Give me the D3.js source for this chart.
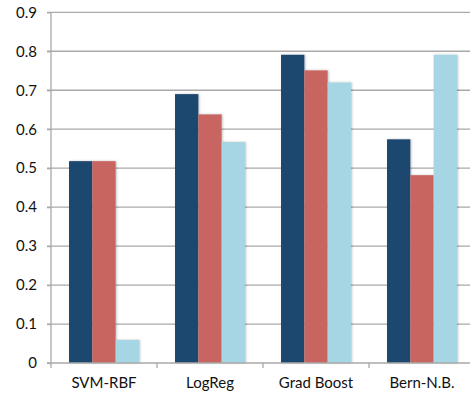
<!DOCTYPE html>
<html><head><meta charset="utf-8">
<script src="https://cdn.jsdelivr.net/npm/d3@7"></script>
<style>body{margin:0;background:#fff;overflow:hidden}svg{display:block}</style>
</head><body>
<script>
const categories = ["SVM-RBF", "LogReg", "Grad Boost", "Bern-N.B."];
const seriesNames = ["A", "B", "C"];
const seriesA = [0.518, 0.690, 0.791, 0.574];
const seriesB = [0.518, 0.638, 0.751, 0.482];
const seriesC = [0.059, 0.567, 0.720, 0.791];
const yTicks = [0, 0.1, 0.2, 0.3, 0.4, 0.5, 0.6, 0.7, 0.8, 0.9];
const colors = ["#1f476e", "#c96561", "#a6d6e3"];

(function(){
const W = 470, H = 394;
const mLeft = 51, mRight = 475, mTop = 12.3, mBottom = 363;
const svg = d3.select("body").append("svg").attr("width", W).attr("height", H);

const defs = svg.append("defs");
const f = defs.append("filter").attr("id","sh").attr("x","-20%").attr("y","-5%").attr("width","140%").attr("height","110%");
f.append("feDropShadow").attr("dx",1).attr("dy",0).attr("stdDeviation",1).attr("flood-color","#000").attr("flood-opacity",0.25);

const x0 = d3.scaleBand().domain(categories).range([mLeft, mRight]).paddingInner(0.34).paddingOuter(0.17);
const x1 = d3.scaleBand().domain(seriesNames).range([0, x0.bandwidth()]);
const y = d3.scaleLinear().domain([0, 0.9]).range([mBottom, mTop]);

svg.append("g").selectAll("line").data(yTicks.slice(1)).join("line")
  .attr("x1", mLeft - 4).attr("x2", W).attr("y1", d => y(d)).attr("y2", d => y(d))
  .attr("stroke", "#a9a9a9").attr("stroke-width", 1.3);

const series = [seriesA, seriesB, seriesC];
const g = svg.append("g");
categories.forEach((c, i) => {
  series.forEach((s, j) => {
    g.append("rect")
      .attr("x", x0(c) + x1(seriesNames[j]))
      .attr("y", y(s[i]))
      .attr("width", x1.bandwidth())
      .attr("height", y(0) - y(s[i]))
      .attr("fill", colors[j])
      .attr("filter", "url(#sh)");
  });
});

const font = "Lato, 'Open Sans', sans-serif";
const yAxis = d3.axisLeft(y).tickValues(yTicks).tickSize(4).tickPadding(10)
  .tickFormat(d => d === 0 ? "0" : d3.format(".1f")(d));
const ya = svg.append("g").attr("transform", `translate(${mLeft},0)`).call(yAxis);
ya.select(".domain").attr("stroke", "#a9a9a9").attr("stroke-width", 1.3).attr("d", `M-4,${mBottom}H0V${mTop}`);
ya.selectAll(".tick line").attr("stroke", "#a9a9a9").attr("stroke-width", 1.3);
ya.selectAll("text").attr("font-family", font).attr("font-size", 15).attr("fill", "#111");

const xa = svg.append("g").attr("transform", `translate(0,${mBottom})`);
xa.append("line").attr("x1", mLeft).attr("x2", W).attr("y1", 0).attr("y2", 0).attr("stroke", "#a9a9a9").attr("stroke-width", 1.3);
const edges = categories.map(c => x0(c) - x0.step()*x0.paddingInner()/2).concat([mRight]);
xa.selectAll("line.t").data(edges).join("line").attr("class","t")
  .attr("x1", d => d).attr("x2", d => d).attr("y1", 0).attr("y2", 5)
  .attr("stroke", "#a9a9a9").attr("stroke-width", 1.3);
xa.selectAll("text").data(categories).join("text")
  .attr("x", d => x0(d) + x0.bandwidth()/2).attr("y", 25)
  .attr("text-anchor", "middle")
  .attr("font-family", font).attr("font-size", 15).attr("fill", "#111")
  .text(d => d);
})();
</script>
</body></html>
